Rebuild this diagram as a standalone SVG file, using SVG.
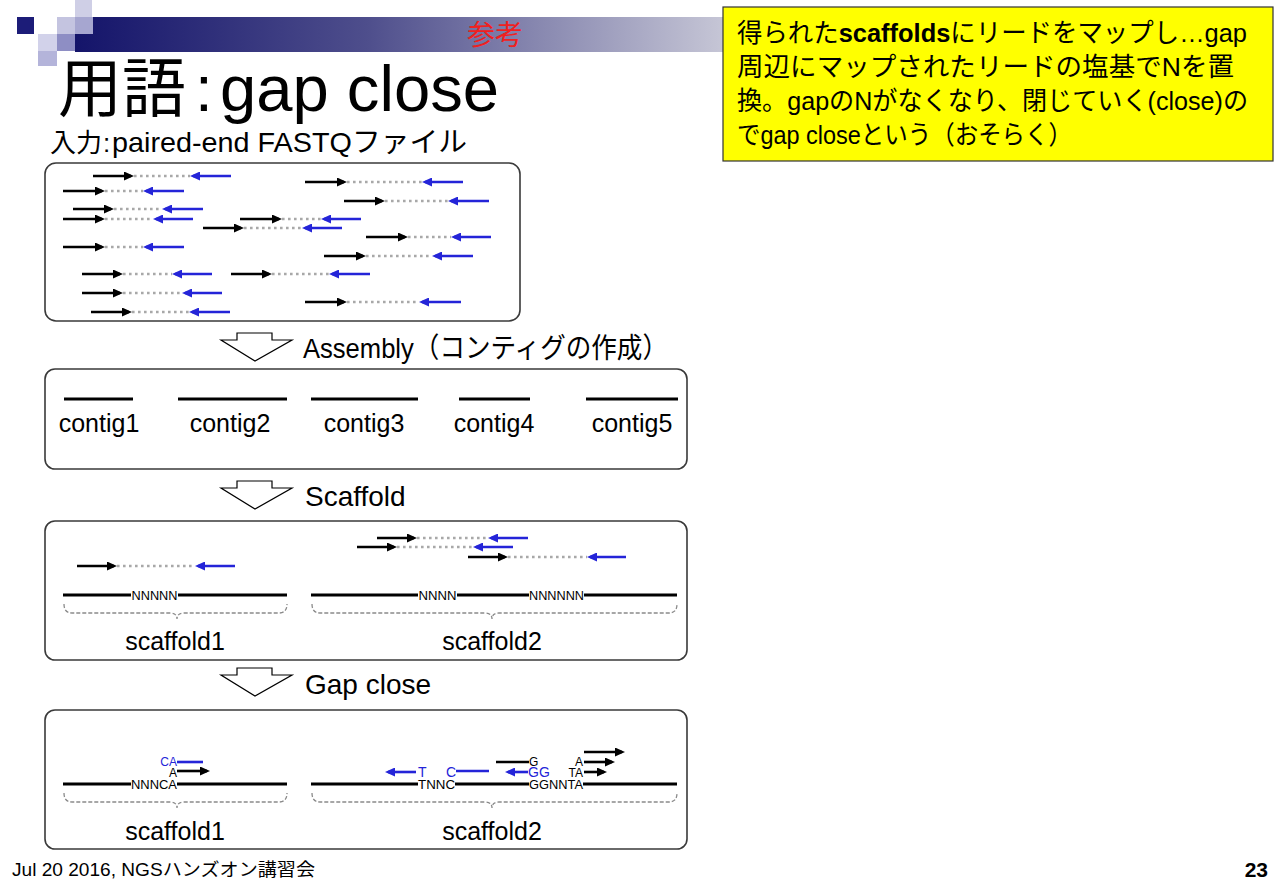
<svg xmlns="http://www.w3.org/2000/svg" width="1280" height="886" viewBox="0 0 1280 886">
<defs>
  <linearGradient id="barFill" x1="0" y1="0" x2="1" y2="0">
    <stop offset="0" stop-color="#14146a"/>
    <stop offset="0.45" stop-color="#4e4e8c"/>
    <stop offset="1" stop-color="#c6c6d6"/>
  </linearGradient>
  <marker id="headK" viewBox="0 0 10 9" refX="7" refY="4.5" markerWidth="10" markerHeight="9" markerUnits="userSpaceOnUse" orient="auto">
    <path d="M0,0 L10,4.5 L0,9 Z" fill="#000"/>
  </marker>
  <marker id="headB" viewBox="0 0 10 9" refX="7" refY="4.5" markerWidth="10" markerHeight="9" markerUnits="userSpaceOnUse" orient="auto">
    <path d="M0,0 L10,4.5 L0,9 Z" fill="#2424d8"/>
  </marker>
</defs>
<style>
  text { font-family: "Liberation Sans", "Noto Sans CJK JP", sans-serif; fill: #000; }
  .panel { fill: #fff; stroke: #3a3a3a; stroke-width: 1.6; }
  .fwd { stroke: #000; stroke-width: 2.6; marker-end: url(#headK); }
  .rev { stroke: #2424d8; stroke-width: 2.6; marker-end: url(#headB); }
  .bar { stroke: #000; stroke-width: 2.6; }
  .barB { stroke: #2424d8; stroke-width: 2.6; }
  .gap { stroke: #a8a8a8; stroke-width: 2.6; stroke-dasharray: 2.6 3.4; }
  .seq { stroke: #000; stroke-width: 3; }
  .brace { fill: none; stroke: #8a8a8a; stroke-width: 1.3; stroke-dasharray: 4 2; }
  .step { fill: #fff; stroke: #000; stroke-width: 1.2; }
  .big { font-size: 28px; }
  .base { font-size: 13px; }
  .stack { font-size: 12px; }
  .baseB { font-size: 14px; fill: #2424d8; }
  .lbl { font-size: 25px; }
</style>

<!-- slide header: squares and gradient band -->
<g id="header">
  <rect x="75" y="0" width="17" height="17" fill="#cfcfe6"/>
  <rect x="17" y="17" width="17" height="17" fill="#1c1c78"/>
  <rect x="57" y="17" width="18" height="17" fill="#c4c4e0"/>
  <rect x="38" y="34" width="19" height="17" fill="#d2d2ea"/>
  <rect x="57" y="34" width="18" height="17" fill="#8e8ec4"/>
  <rect x="38" y="51" width="19" height="15" fill="#b4b4da"/>
  <rect x="75" y="17" width="648" height="35" fill="url(#barFill)"/>
  <rect x="75" y="17" width="18" height="17" fill="#a6a6d0"/>
  <text x="495" y="45" font-size="28" text-anchor="middle" style="fill:#f02020">参考</text>
</g>

<!-- title and subtitle -->
<g id="title">
  <text y="111" font-size="64"><tspan x="58">用語</tspan><tspan x="195">:</tspan><tspan x="220" textLength="279" lengthAdjust="spacingAndGlyphs">gap close</tspan></text>
  <text y="152" font-size="26"><tspan x="50">入力</tspan><tspan x="103">:</tspan><tspan x="112" font-size="28" textLength="355" lengthAdjust="spacingAndGlyphs">paired-end FASTQファイル</tspan></text>
</g>

<!-- explanatory note -->
<g id="note">
  <rect x="723" y="7" width="550" height="154" fill="#ffff00" stroke="#333" stroke-width="1.2"/>
  <text x="737" y="42" font-size="26" textLength="510" lengthAdjust="spacingAndGlyphs">得られた<tspan font-weight="bold">scaffolds</tspan>にリードをマップし…gap</text>
  <text x="737" y="76" font-size="26" textLength="497" lengthAdjust="spacingAndGlyphs">周辺にマップされたリードの塩基でNを置</text>
  <text x="737" y="110" font-size="26" textLength="511" lengthAdjust="spacingAndGlyphs">換。gapのNがなくなり、閉じていく(close)の</text>
  <text x="737" y="144" font-size="26" textLength="335" lengthAdjust="spacingAndGlyphs">でgap closeという（おそらく）</text>
</g>

<!-- step 0: paired-end reads -->
<g id="reads">
  <rect class="panel" x="45" y="163" width="475" height="158" rx="11"/>
  <g class="gap">
    <line x1="134" y1="176" x2="190" y2="176"/>
    <line x1="105" y1="191" x2="143" y2="191"/>
    <line x1="114" y1="209" x2="162" y2="209"/>
    <line x1="105" y1="219" x2="153" y2="219"/>
    <line x1="282" y1="219" x2="321" y2="219"/>
    <line x1="244" y1="228" x2="302" y2="228"/>
    <line x1="105" y1="247" x2="143" y2="247"/>
    <line x1="123" y1="274" x2="172" y2="274"/>
    <line x1="272" y1="274" x2="329" y2="274"/>
    <line x1="123" y1="293" x2="182" y2="293"/>
    <line x1="132" y1="312" x2="189" y2="312"/>
    <line x1="347" y1="182" x2="422" y2="182"/>
    <line x1="385" y1="201" x2="448" y2="201"/>
    <line x1="408" y1="237" x2="451" y2="237"/>
    <line x1="366" y1="256" x2="432" y2="256"/>
    <line x1="347" y1="302" x2="419" y2="302"/>
  </g>
  <g>
    <line class="fwd" x1="93" y1="176" x2="131" y2="176"/><line class="rev" x1="231" y1="176" x2="193" y2="176"/>
    <line class="fwd" x1="63" y1="191" x2="102" y2="191"/><line class="rev" x1="184" y1="191" x2="146" y2="191"/>
    <line class="fwd" x1="73" y1="209" x2="111" y2="209"/><line class="rev" x1="203" y1="209" x2="165" y2="209"/>
    <line class="fwd" x1="63" y1="219" x2="102" y2="219"/><line class="rev" x1="193" y1="219" x2="156" y2="219"/>
    <line class="fwd" x1="240" y1="219" x2="279" y2="219"/><line class="rev" x1="361" y1="219" x2="324" y2="219"/>
    <line class="fwd" x1="203" y1="228" x2="241" y2="228"/><line class="rev" x1="342" y1="228" x2="305" y2="228"/>
    <line class="fwd" x1="63" y1="247" x2="102" y2="247"/><line class="rev" x1="184" y1="247" x2="146" y2="247"/>
    <line class="fwd" x1="82" y1="274" x2="120" y2="274"/><line class="rev" x1="212" y1="274" x2="175" y2="274"/>
    <line class="fwd" x1="231" y1="274" x2="269" y2="274"/><line class="rev" x1="370" y1="274" x2="332" y2="274"/>
    <line class="fwd" x1="82" y1="293" x2="120" y2="293"/><line class="rev" x1="222" y1="293" x2="185" y2="293"/>
    <line class="fwd" x1="91" y1="312" x2="129" y2="312"/><line class="rev" x1="230" y1="312" x2="192" y2="312"/>
    <line class="fwd" x1="305" y1="182" x2="344" y2="182"/><line class="rev" x1="463" y1="182" x2="425" y2="182"/>
    <line class="fwd" x1="344" y1="201" x2="382" y2="201"/><line class="rev" x1="489" y1="201" x2="451" y2="201"/>
    <line class="fwd" x1="366" y1="237" x2="405" y2="237"/><line class="rev" x1="491" y1="237" x2="454" y2="237"/>
    <line class="fwd" x1="324" y1="256" x2="363" y2="256"/><line class="rev" x1="473" y1="256" x2="435" y2="256"/>
    <line class="fwd" x1="305" y1="302" x2="344" y2="302"/><line class="rev" x1="461" y1="302" x2="422" y2="302"/>
  </g>
</g>

<!-- step arrows between panels -->
<g id="connectors">
  <polygon class="step" points="237,333 272,333 272,340 292,340 255,361 221,340 237,340"/>
  <polygon class="step" points="237,481 272,481 272,488 292,488 255,509 221,488 237,488"/>
  <polygon class="step" points="237,668 272,668 272,675 292,675 255,696 221,675 237,675"/>
</g>
<g id="step-labels">
  <text class="big" x="303" y="358" textLength="365" lengthAdjust="spacingAndGlyphs">Assembly（コンティグの作成）</text>
  <text class="big" x="305" y="506">Scaffold</text>
  <text class="big" x="305" y="694">Gap close</text>
</g>

<!-- step 1: contigs -->
<g id="contigs">
  <rect class="panel" x="45" y="369" width="642" height="100" rx="10"/>
  <line class="seq" x1="64" y1="399" x2="133" y2="399"/>
  <line class="seq" x1="178" y1="399" x2="287" y2="399"/>
  <line class="seq" x1="311" y1="399" x2="418" y2="399"/>
  <line class="seq" x1="459" y1="399" x2="530" y2="399"/>
  <line class="seq" x1="586" y1="399" x2="678" y2="399"/>
  <g class="lbl" text-anchor="middle">
    <text x="99" y="432">contig1</text>
    <text x="230" y="432">contig2</text>
    <text x="364" y="432">contig3</text>
    <text x="494" y="432">contig4</text>
    <text x="632" y="432">contig5</text>
  </g>
</g>

<!-- step 2: scaffolds with gaps (N) -->
<g id="scaffolds">
  <rect class="panel" x="45" y="521" width="642" height="139" rx="10"/>
  <g class="gap">
    <line x1="117" y1="566" x2="195" y2="566"/>
    <line x1="417" y1="538" x2="488" y2="538"/>
    <line x1="397" y1="547" x2="473" y2="547"/>
    <line x1="508" y1="557" x2="587" y2="557"/>
  </g>
  <line class="fwd" x1="77" y1="566" x2="114" y2="566"/><line class="rev" x1="235" y1="566" x2="198" y2="566"/>
  <line class="fwd" x1="377" y1="538" x2="414" y2="538"/><line class="rev" x1="528" y1="538" x2="491" y2="538"/>
  <line class="fwd" x1="357" y1="547" x2="394" y2="547"/><line class="rev" x1="513" y1="547" x2="476" y2="547"/>
  <line class="fwd" x1="468" y1="557" x2="505" y2="557"/><line class="rev" x1="626" y1="557" x2="590" y2="557"/>
  <line class="seq" x1="63" y1="595" x2="131" y2="595"/>
  <line class="seq" x1="178" y1="595" x2="287" y2="595"/>
  <text class="base" x="154.5" y="600" text-anchor="middle" textLength="46" lengthAdjust="spacingAndGlyphs">NNNNN</text>
  <line class="seq" x1="311" y1="595" x2="418" y2="595"/>
  <line class="seq" x1="457" y1="595" x2="529" y2="595"/>
  <line class="seq" x1="584" y1="595" x2="677" y2="595"/>
  <text class="base" x="437.5" y="600" text-anchor="middle" textLength="38" lengthAdjust="spacingAndGlyphs">NNNN</text>
  <text class="base" x="556.5" y="600" text-anchor="middle" textLength="55" lengthAdjust="spacingAndGlyphs">NNNNNN</text>
  <path class="brace" d="M64,604 Q64,613 72,613 L170,613 Q177,613 177,619 Q177,613 184,613 L279,613 Q287,613 287,604"/>
  <path class="brace" d="M312,604 Q312,613 320,613 L485,613 Q492,613 492,619 Q492,613 499,613 L669,613 Q677,613 677,604"/>
  <text class="lbl" x="175" y="650" text-anchor="middle">scaffold1</text>
  <text class="lbl" x="492" y="650" text-anchor="middle">scaffold2</text>
</g>

<!-- step 3: gaps filled from mapped read bases -->
<g id="gapclose">
  <rect class="panel" x="45" y="710" width="642" height="139" rx="10"/>
  <!-- scaffold1 -->
  <text class="stack" x="177" y="766" text-anchor="end" style="fill:#2424d8">CA</text>
  <line class="barB" x1="177" y1="762" x2="203" y2="762"/>
  <text class="stack" x="177" y="777" text-anchor="end">A</text>
  <line class="fwd" x1="177" y1="771" x2="207" y2="771"/>
  <line class="seq" x1="63" y1="784" x2="131" y2="784"/>
  <line class="seq" x1="177" y1="784" x2="287" y2="784"/>
  <text class="base" x="154" y="789" text-anchor="middle" textLength="46" lengthAdjust="spacingAndGlyphs">NNNCA</text>
  <!-- scaffold2 -->
  <line class="rev" x1="416" y1="772" x2="388" y2="772"/>
  <text class="baseB" x="418" y="777">T</text>
  <text class="baseB" x="446" y="777">C</text>
  <line class="barB" x1="456" y1="771" x2="489" y2="771"/>
  <line class="bar" x1="496" y1="762" x2="529" y2="762"/>
  <text class="stack" x="529" y="766">G</text>
  <line class="rev" x1="528" y1="772" x2="508" y2="772"/>
  <text class="baseB" x="528" y="777">GG</text>
  <text class="stack" x="583" y="766" text-anchor="end">A</text>
  <line class="fwd" x1="584" y1="762" x2="612" y2="762"/>
  <text class="stack" x="583" y="777" text-anchor="end">TA</text>
  <line class="fwd" x1="584" y1="772" x2="604" y2="772"/>
  <line class="fwd" x1="584" y1="752" x2="622" y2="752"/>
  <line class="seq" x1="311" y1="784" x2="418" y2="784"/>
  <line class="seq" x1="455" y1="784" x2="529" y2="784"/>
  <line class="seq" x1="583" y1="784" x2="677" y2="784"/>
  <text class="base" x="436.5" y="789" text-anchor="middle" textLength="37" lengthAdjust="spacingAndGlyphs">TNNC</text>
  <text class="base" x="556" y="789" text-anchor="middle" textLength="54" lengthAdjust="spacingAndGlyphs">GGNNTA</text>
  <path class="brace" d="M64,793 Q64,802 72,802 L170,802 Q177,802 177,808 Q177,802 184,802 L279,802 Q287,802 287,793"/>
  <path class="brace" d="M312,793 Q312,802 320,802 L485,802 Q492,802 492,808 Q492,802 499,802 L669,802 Q677,802 677,793"/>
  <text class="lbl" x="175" y="840" text-anchor="middle">scaffold1</text>
  <text class="lbl" x="492" y="840" text-anchor="middle">scaffold2</text>
</g>

<!-- footer -->
<g id="footer">
  <text x="12" y="876" font-size="18" textLength="303" lengthAdjust="spacingAndGlyphs">Jul 20 2016, NGSハンズオン講習会</text>
  <text x="1268" y="877" font-size="21" font-weight="bold" text-anchor="end">23</text>
</g>
</svg>
